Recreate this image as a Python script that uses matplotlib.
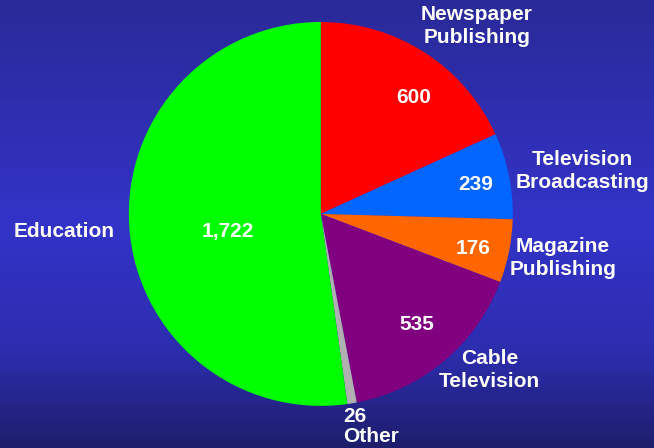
import numpy as np
import matplotlib
matplotlib.use("Agg")
import matplotlib.pyplot as plt
from matplotlib.colors import LinearSegmentedColormap

# spending by segment
segments = ["Newspaper\nPublishing", "Television\nBroadcasting", "Magazine\nPublishing",
            "Cable\nTelevision", "Other", "Education"]
values = [600, 239, 176, 535, 26, 1722]
colors = ["#ff0000", "#0066ff", "#ff6600", "#800080", "#b0b0b0", "#00ff00"]

# label placement (axes data units, pie radius = 1)
value_pos = [(0.484, 0.604), (0.807, 0.151), (0.792, -0.182),
             (0.50, -0.578), None, (-0.484, -0.094)]
name_pos = [(0.8125, 0.979), (1.365, 0.224), (1.26, -0.229),
            (0.88, -0.8125), None, (-1.339, -0.089)]

plt.rcParams['font.family'] = ['Liberation Sans', 'DejaVu Sans']

fig = plt.figure(figsize=(6.54, 4.48), dpi=100)

# background gradient
bg = fig.add_axes([0, 0, 1, 1], zorder=0)
cmap = LinearSegmentedColormap.from_list(
    "bg", [(0.0, "#2a2a98"), (0.5, "#3333c8"), (0.78, "#2d2db0"), (1.0, "#1e1e6c")])
grad = np.linspace(0, 1, 256).reshape(-1, 1)
bg.imshow(grad, aspect="auto", cmap=cmap, extent=[0, 1, 0, 1], origin="upper")
bg.axis("off")

# subtitle mostly above the top edge
fig.text(0.497, 1.008, "(in millions)", color="#ffff00", fontsize=15,
         fontweight="bold", ha="center", va="baseline")

ax = fig.add_axes([0.197, 0.094, 0.587, 0.857], zorder=1)
ax.pie(values, colors=colors, startangle=90, counterclock=False,
       wedgeprops=dict(linewidth=0))
ax.set_xlim(-1, 1)
ax.set_ylim(-1, 1)
ax.set_aspect("equal")
ax.axis("off")

txt = dict(color="white", fontsize=15, fontweight="bold")
for v, vp, name, np_ in zip(values, value_pos, segments, name_pos):
    if vp is not None:
        ax.text(vp[0], vp[1], f"{v:,}", ha="center", va="center", **txt)
    if np_ is not None:
        ax.text(np_[0], np_[1], name, ha="center", va="center",
                linespacing=1.3, **txt)

# tiny slice labelled below the pie
ax.text(0.115, -1.109, f"{values[4]:,}\n{segments[4]}", ha="left", va="center",
        linespacing=1.05, **txt)

fig.savefig("out.png", dpi=100)
